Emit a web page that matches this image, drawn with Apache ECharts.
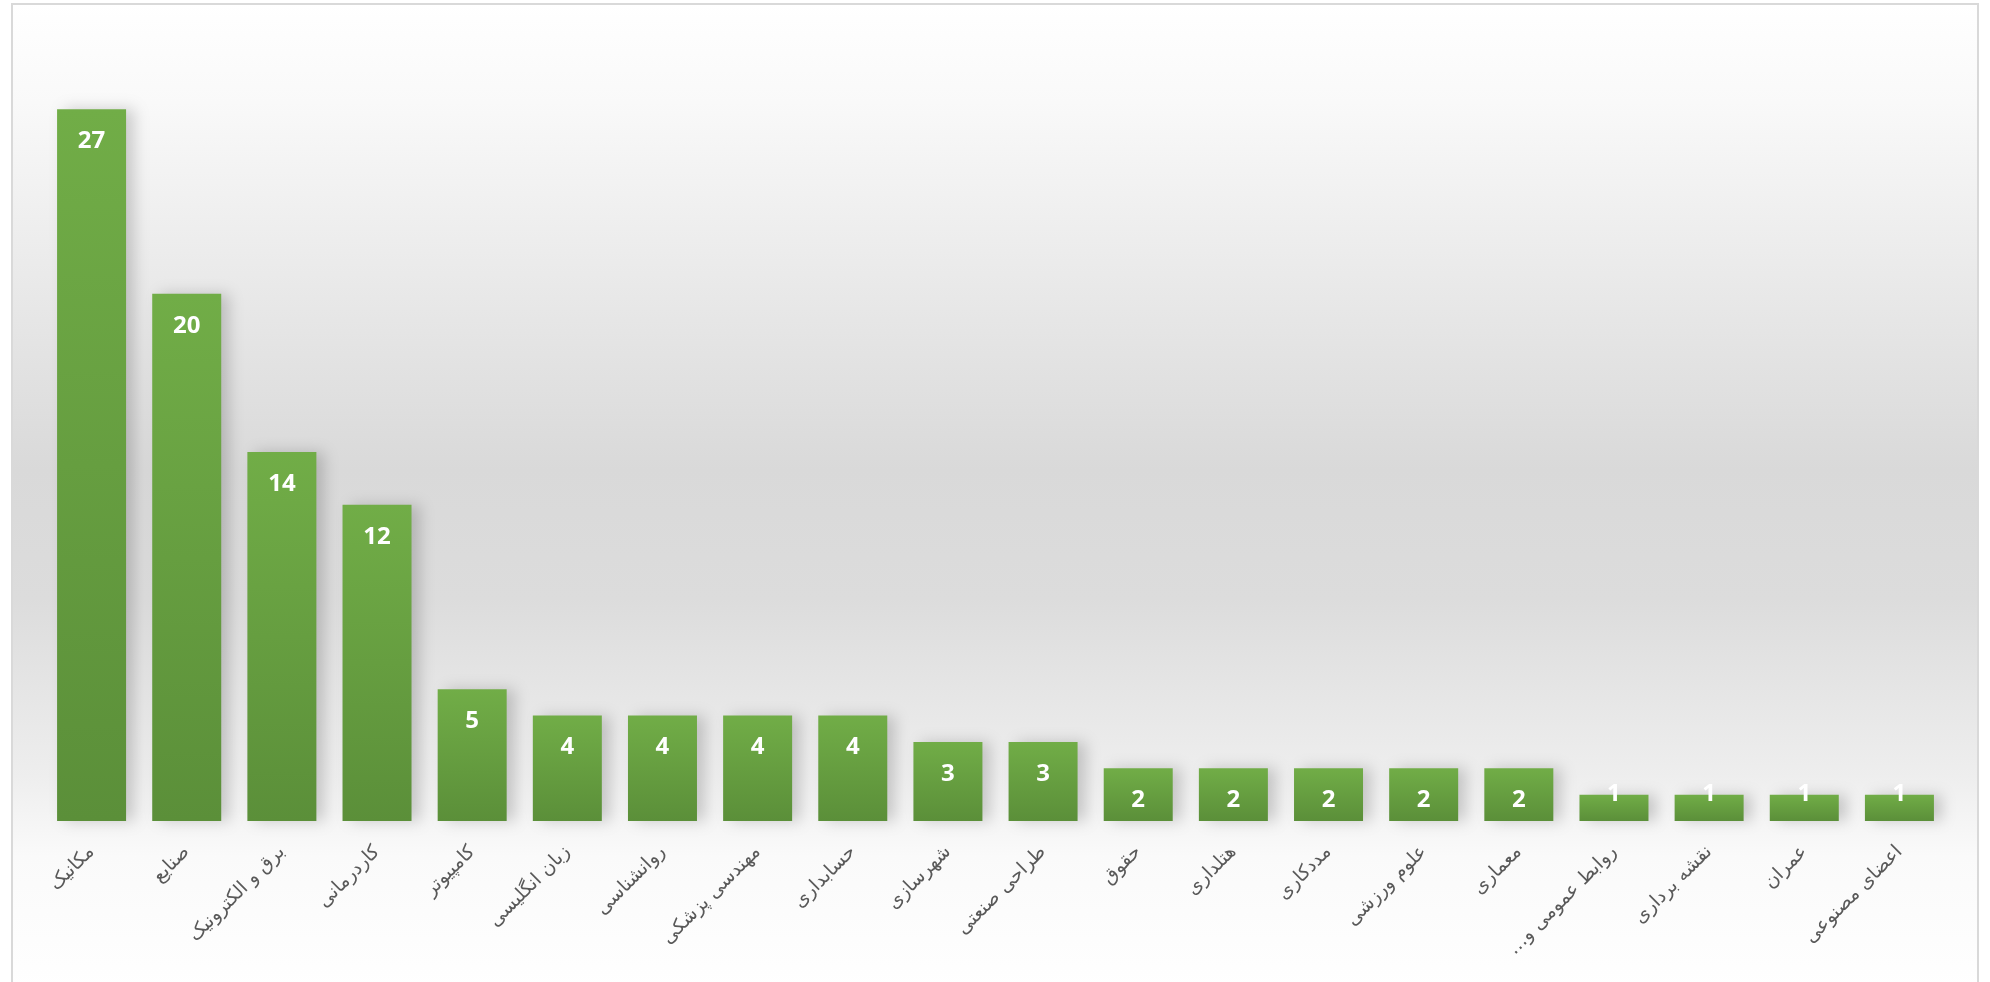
<!DOCTYPE html>
<html>
<head>
<meta charset="utf-8">
<script src="https://cdn.jsdelivr.net/npm/echarts@6/dist/echarts.min.js"></script>
<style>html,body{margin:0;padding:0;background:#fff;}#c{width:1990px;height:982px;}</style>
</head>
<body>
<div id="c"></div>
<script>
var categories = ['مکانیک','صنایع','برق و الکترونیک','کاردرمانی','کامپیوتر','زبان انگلیسی','روانشناسی','مهندسی پزشکی','حسابداری','شهرسازی','طراحی صنعتی','حقوق','هتلداری','مددکاری','علوم ورزشی','معماری','روابط عمومی و…\u200F','نقشه برداری','عمران','اعضای مصنوعی'];
var values = [27,20,14,12,5,4,4,4,4,3,3,2,2,2,2,2,1,1,1,1];

var chart = echarts.init(document.getElementById('c'));
var barData = values.map(function(v){
  if (v <= 1) return {value: v, label: {distance: 0, offset: [0, -12]}};
  return v;
});
chart.setOption({
  animation: false,
  graphic: [{
    type: 'rect', z: -10, silent: true,
    shape: {x: 12, y: 4, width: 1966, height: 990},
    style: {
      fill: {type: 'linear', x: 0, y: 0, x2: 0, y2: 1, colorStops: [
        {offset: 0, color: '#ffffff'},
        {offset: 0.1, color: '#f9f9f9'},
        {offset: 0.47, color: '#d9d9d9'},
        {offset: 0.6, color: '#dcdcdc'},
        {offset: 0.78, color: '#eeeeee'},
        {offset: 0.86, color: '#fafafa'},
        {offset: 1, color: '#ffffff'}
      ]},
      stroke: '#d9d9d9', lineWidth: 2
    }
  }],
  grid: {left: 44, right: 43, top: 83, bottom: 161, containLabel: false},
  xAxis: {
    type: 'category', data: categories,
    axisLine: {show: false}, axisTick: {show: false},
    axisLabel: {interval: 0, rotate: 45, margin: 28, color: '#595959', fontSize: 19, fontFamily: 'DejaVu Sans'}
  },
  yAxis: {type: 'value', min: 0, max: 28, show: false, splitLine: {show: false}},
  series: [{
    type: 'bar', data: barData, barWidth: 69,
    itemStyle: {
      color: {type: 'linear', x: 0, y: 0, x2: 0, y2: 1, colorStops: [
        {offset: 0, color: '#71ad47'},
        {offset: 1, color: '#5b8f39'}
      ]},
      shadowColor: 'rgba(0,0,0,0.18)', shadowBlur: 14, shadowOffsetX: 8, shadowOffsetY: 0
    },
    label: {show: true, position: 'insideTop', distance: 20, color: '#ffffff', fontSize: 24, fontWeight: 'bold', fontFamily: 'Open Sans'}
  }]
});
</script>
</body>
</html>
